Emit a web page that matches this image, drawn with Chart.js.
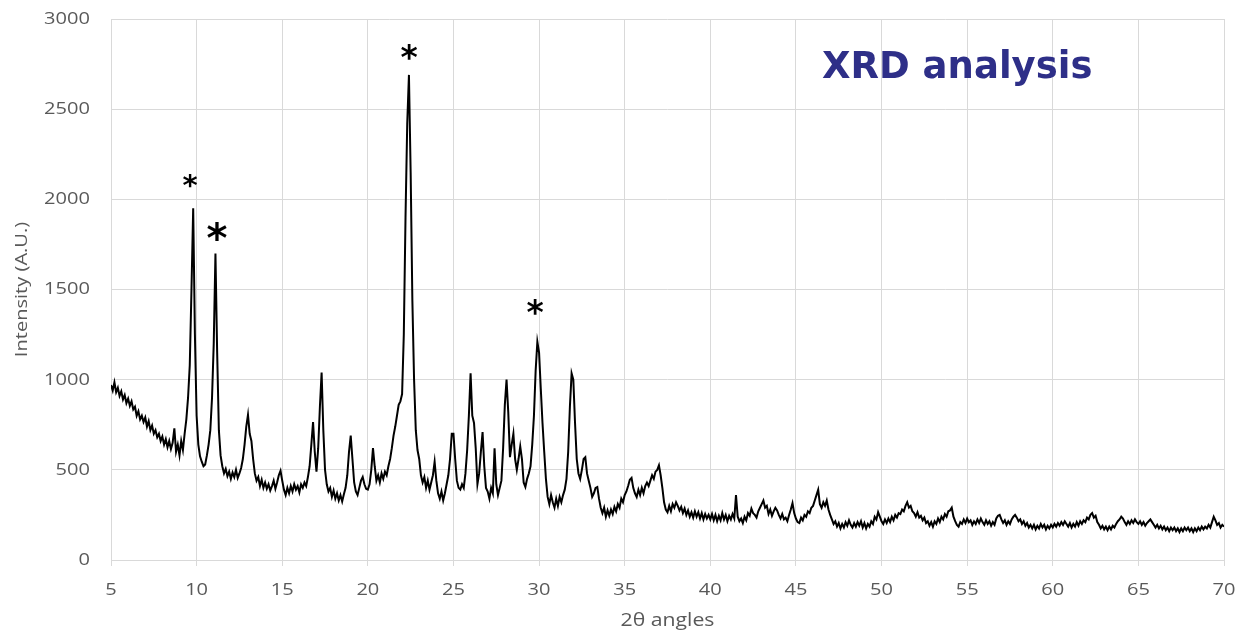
<!DOCTYPE html>
<html lang="en">
<head>
<meta charset="UTF-8">
<title>XRD analysis</title>
<script src="https://cdn.jsdelivr.net/npm/chart.js@4"></script>
<style>
  html, body { margin: 0; padding: 0; background: #fff; }
</style>
</head>
<body>
<canvas id="chart" width="1235" height="635"></canvas>

<script>
  // 2θ scan: 5.0 .. 70.0 in 0.1 steps, intensities
  const startAngle = 5;
  const angleStep = 0.1;

  const i05 = [970, 940, 985, 930, 955, 910, 935, 890, 915, 870, 895, 855, 880, 835, 850, 800, 825, 780, 800, 765,
               790, 740, 770, 720, 745, 700, 720, 680, 700, 660, 685, 640, 670, 625, 660, 615, 650, 730, 600, 640,
               580, 660, 610, 700, 780, 900, 1080, 1500, 1950, 1250];
  const i10 = [800, 640, 575, 545, 520, 530, 580, 640, 720, 900, 1200, 1700, 1150, 720, 580, 520, 480, 505, 465, 490,
               450, 485, 460, 500, 455, 480, 510, 560, 640, 740, 805, 700, 660, 560, 480, 440, 460, 410, 445, 400,
               430, 395, 420, 385, 410, 440, 395, 430, 470, 495];
  const i15 = [440, 390, 360, 400, 370, 410, 380, 420, 390, 410, 375, 420, 400, 430, 410, 460, 520, 640, 765, 600,
               490, 620, 850, 1040, 720, 500, 420, 380, 400, 350, 385, 340, 370, 330, 360, 325, 365, 400, 470, 600,
               690, 560, 430, 380, 360, 400, 440, 460, 420, 395];
  const i20 = [390, 420, 500, 620, 520, 440, 470, 430, 480, 450, 490, 470, 520, 560, 620, 690, 740, 800, 860, 880,
               920, 1250, 1900, 2420, 2690, 2150, 1440, 1000, 720, 610, 560, 470, 430, 460, 400, 440, 390, 430, 470, 545,
               440, 370, 340, 380, 330, 370, 420, 470, 560, 700];
  const i25 = [700, 560, 440, 400, 390, 420, 400, 480, 610, 800, 1035, 800, 760, 620, 420, 480, 600, 710, 520, 400,
               380, 340, 400, 370, 620, 420, 360, 400, 440, 620, 860, 1000, 820, 570, 640, 700, 560, 500, 560, 630,
               560, 430, 405, 450, 480, 520, 640, 800, 1050, 1210];
  const i30 = [1150, 950, 760, 600, 450, 350, 310, 360, 320, 290, 340, 300, 350, 320, 360, 390, 450, 600, 850, 1035,
               1000, 760, 560, 480, 450, 500, 560, 570, 480, 440, 400, 350, 370, 400, 405, 340, 290, 260, 290, 240,
               275, 245, 280, 255, 295, 270, 310, 290, 340, 320];
  const i35 = [360, 380, 410, 445, 455, 400, 370, 350, 390, 360, 400, 370, 410, 430, 410, 440, 470, 450, 490, 500,
               525, 470, 400, 320, 280, 265, 300, 270, 310, 290, 320, 300, 275, 295, 260, 285, 250, 275, 240, 265,
               235, 270, 240, 265, 230, 260, 225, 255, 230, 250];
  const i40 = [225, 255, 220, 250, 215, 245, 220, 260, 225, 250, 215, 245, 225, 255, 230, 360, 240, 215, 230, 205,
               240, 220, 260, 245, 285, 260, 250, 235, 270, 290, 310, 330, 290, 300, 255, 280, 245, 270, 290, 275,
               250, 230, 255, 225, 235, 215, 250, 280, 315, 260];
  const i45 = [230, 210, 205, 235, 220, 250, 240, 270, 260, 290, 300, 330, 360, 390, 310, 290, 320, 300, 330, 280,
               250, 225, 200, 215, 185, 205, 175, 200, 180, 210, 190, 220, 195, 180, 205, 185, 210, 190, 215, 180,
               205, 175, 200, 185, 215, 200, 240, 225, 265, 240];
  const i50 = [215, 200, 225, 205, 230, 210, 240, 220, 250, 235, 260, 255, 280, 270, 300, 320, 290, 300, 270, 260,
               240, 265, 235, 245, 220, 235, 205, 215, 190, 210, 185, 215, 200, 230, 210, 240, 225, 255, 240, 270,
               275, 290, 240, 215, 195, 185, 210, 200, 225, 205];
  const i55 = [230, 210, 220, 195, 215, 200, 225, 205, 230, 210, 195, 220, 200, 215, 190, 210, 195, 230, 245, 250,
               225, 205, 220, 195, 215, 200, 225, 240, 250, 235, 215, 225, 200, 215, 190, 205, 180, 195, 175, 195,
               170, 190, 175, 200, 180, 195, 170, 190, 175, 195];
  const i60 = [180, 200, 185, 205, 190, 210, 195, 215, 200, 185, 205, 180, 200, 185, 210, 190, 215, 200, 220, 210,
               235, 225, 250, 260, 235, 245, 210, 195, 175, 190, 170, 185, 165, 185, 170, 190, 180, 200, 215, 225,
               240, 230, 210, 195, 215, 200, 220, 205, 225, 210];
  const i65 = [200, 215, 195, 210, 190, 205, 215, 225, 210, 195, 180, 195, 175, 190, 170, 185, 165, 180, 160, 180,
               165, 180, 160, 175, 155, 175, 160, 180, 165, 180, 160, 175, 155, 175, 160, 180, 165, 185, 170, 185,
               175, 195, 180, 210, 240, 220, 195, 205, 180, 195, 185];

  const intensity = [].concat(i05, i10, i15, i20, i25, i30, i35, i40, i45, i50, i55, i60, i65);

  // asterisks marking the main reflections (2θ, intensity level of the mark)
  const starAngles = [9.62, 11.19, 22.41, 29.77];
  const starLevels = [2090, 1800, 2800, 1386];

  const points = intensity.map((v, i) => ({ x: +(startAngle + i * angleStep).toFixed(1), y: v }));

  const gridColor = '#d9d9d9';
  const labelColor = '#595959';
  Chart.defaults.font.family = "'Open Sans', 'Noto Sans', sans-serif";
  Chart.defaults.font.size = 17;
  Chart.defaults.color = labelColor;

  // the axis texts in the original are a bit wide, stretch them horizontally
  const canvas = document.getElementById('chart');
  const ctx0 = canvas.getContext('2d');
  const rawFill = ctx0.fillText.bind(ctx0);
  let textStretch = 1.18;
  ctx0.fillText = function (t, x, y) {
    if (textStretch === 1) return rawFill(t, x, y);
    this.save();
    this.translate(x, y);
    this.scale(textStretch, 1);
    rawFill(t, 0, 0);
    this.restore();
  };

  const annotate = {
    id: 'annotate',
    afterDatasetsDraw(chart) {
      const { ctx, scales: { x, y } } = chart;
      const sizes = [29, 40, 33, 33];
      const keep = textStretch;
      textStretch = 1;
      ctx.save();
      ctx.fillStyle = '#000';
      ctx.textAlign = 'center';
      ctx.textBaseline = 'alphabetic';
      starAngles.forEach((a, i) => {
        ctx.font = 'bold ' + sizes[i] + 'px "DejaVu Sans"';
        ctx.fillText('*', x.getPixelForValue(a), y.getPixelForValue(starLevels[i]) + sizes[i] * 0.42);
      });
      ctx.fillStyle = '#2e2f88';
      ctx.font = 'bold 37px "DejaVu Sans"';
      ctx.textAlign = 'left';
      ctx.fillText('XRD analysis', 822, 78);
      ctx.restore();
      textStretch = keep;
    }
  };

  new Chart(canvas, {
    type: 'line',
    data: {
      datasets: [{
        data: points,
        borderColor: '#000',
        borderWidth: 2,
        pointRadius: 0,
        tension: 0,
        fill: false
      }]
    },
    options: {
      responsive: false,
      animation: false,
      layout: { padding: { top: 19, right: 11, left: 0, bottom: 0 } },
      plugins: { legend: { display: false }, tooltip: { enabled: false } },
      scales: {
        x: {
          type: 'linear',
          min: 5,
          max: 70,
          ticks: { stepSize: 5, padding: 14, maxRotation: 0 },
          grid: { color: gridColor, tickLength: 6, drawTicks: true },
          border: { color: gridColor },
          title: { display: true, text: '2θ angles', font: { size: 18 }, padding: { top: 0, bottom: 3 } },
          afterFit: s => { s.height = 75; s.paddingLeft = 0; s.paddingRight = 0; }
        },
        y: {
          min: 0,
          max: 3000,
          ticks: { stepSize: 500, padding: 21, callback: v => String(v) },
          grid: { color: gridColor, drawTicks: false },
          border: { display: false },
          title: { display: true, text: 'Intensity (A.U.)', padding: { top: 12, bottom: 0 } },
          afterFit: s => { s.width = 111; s.paddingTop = 0; s.paddingBottom = 0; }
        }
      }
    },
    plugins: [annotate]
  });
</script>
</body>
</html>
